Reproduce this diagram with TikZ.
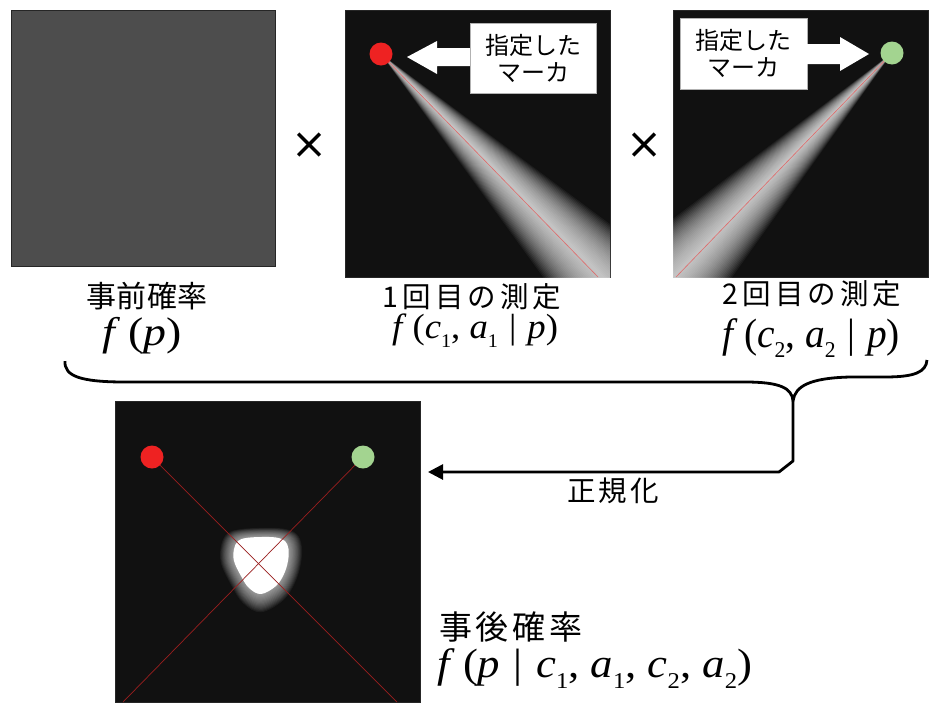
\documentclass[tikz,border=0pt]{standalone}
\usepackage{fontspec}
\newfontfamily\jp{Noto Sans CJK JP}
\newfontfamily\symf{DejaVu Sans}
\newfontfamily\tms{Liberation Serif}
\usetikzlibrary{arrows.meta}
\definecolor{priorc}{HTML}{4D4D4D}
\definecolor{panelbg}{HTML}{111111}
\definecolor{mred}{HTML}{EE2222}
\definecolor{mgreen}{HTML}{A3D490}
\definecolor{lray}{HTML}{E06A6A}
\definecolor{dray}{HTML}{9A1E1E}
\newcommand\jpf[2]{\jp\fontsize{#1}{#1}\selectfont\addfontfeatures{LetterSpace=#2}}
\newcommand\mf[1]{\tms\fontsize{#1}{#1}\selectfont}
\newcommand\vi[1]{\textit{#1}}
\newcommand\sbs[1]{\raisebox{-0.26em}{\scalebox{0.55}{#1}}}
\newcommand\gbar{\hspace{0.3em}|\hspace{0.3em}}
\newcommand\fw[2]{\resizebox{#1pt}{\height}{#2}}
\begin{document}
\begin{tikzpicture}[x=1pt,y=-1pt,
  panel/.style={draw=black!85, line width=0.5pt, inner sep=0pt, outer sep=0pt, anchor=north west},
  marker/.style={circle, inner sep=0pt, minimum size=23pt},
  lbl/.style={inner sep=0pt, align=center, text=black},
  tagbox/.style={fill=white, draw=black!30, line width=0.4pt, inner sep=0pt, align=center,
    font=\jp\fontsize{24}{27}\selectfont},
  heavy/.style={line width=2.8pt, line join=round}]
\useasboundingbox (0,0) rectangle (929,702);
\fill[white] (0,0) rectangle (929,702);

% panels
\node[panel, fill=priorc, minimum width=264pt, minimum height=256pt] (prior) at (11,10) {};
\node[panel, fill=panelbg, minimum width=265pt, minimum height=267pt] (m1) at (345,10) {};
\node[panel, fill=panelbg, minimum width=255pt, minimum height=267pt] (m2) at (673,10) {};
\node[panel, fill=panelbg, minimum width=305pt, minimum height=301pt] (post) at (115,401) {};

% beam 1
\coordinate (a1) at (381,54);
\coordinate (e1) at (598,277);
\begin{scope}
  \clip (m1.north west) rectangle (m1.south east);
  \foreach \h in {0.3,0.6,...,9.0}{
    \fill[white, fill opacity=0.05] (a1) -- +(45.3-\h:430) -- +(45.3+\h:430) -- cycle;
  }
  \draw[lray, line width=0.6pt] (a1) -- (e1);
\end{scope}
% beam 2
\coordinate (a2) at (892,53);
\coordinate (e2) at (676,277);
\begin{scope}
  \clip (m2.north west) rectangle (m2.south east);
  \foreach \h in {0.3,0.6,...,9.0}{
    \fill[white, fill opacity=0.05] (a2) -- +(134.2-\h:430) -- +(134.2+\h:430) -- cycle;
  }
  \draw[lray, line width=0.6pt] (a2) -- (e2);
\end{scope}

\node[marker, fill=mred] (r1) at (a1) {};
\node[marker, fill=mgreen] (g2) at (a2) {};

% tag boxes and block arrows
\node[tagbox, minimum width=126pt, minimum height=70pt] (b1) at (533,58) {指定した\\マーカ};
\fill[white] (407,57) -- (437,41) -- (437,48) -- (b1.west |- 0,48) -- (b1.west |- 0,66) -- (437,66) -- (437,74) -- cycle;
\node[tagbox, minimum width=127pt, minimum height=71pt] (b2) at (743.5,53.5) {指定した\\マーカ};
\fill[white] (b2.east |- 0,44) -- (840,44) -- (840,37) -- (869,54) -- (840,71) -- (840,64) -- (b2.east |- 0,64) -- cycle;

% multiplication signs
\node[lbl, font=\symf\fontsize{43}{43}\selectfont] (x1) at (310,146) {×};
\node[lbl, font=\symf\fontsize{43}{43}\selectfont] (x2) at (645,146) {×};

% labels
\node[lbl, font=\jpf{30}{2}] (t0) at (147,296) {事前確率};
\node[lbl, font=\mf{40}] (f0) at (142.5,336) {\fw{79}{\vi{f}\,(\vi{p})}};
\node[lbl, font=\jpf{28.5}{14}] (t1) at (472,297) {1回目の測定};
\node[lbl, font=\mf{35}] (f1) at (475,331) {\fw{166}{\vi{f}\,(\vi{c}\sbs{1}, \vi{a}\sbs{1}\gbar\vi{p})}};
\node[lbl, font=\jpf{28.5}{14}] (t2) at (812,294) {2回目の測定};
\node[lbl, font=\mf{41}] (f2) at (811,338) {\fw{178}{\vi{f}\,(\vi{c}\sbs{2}, \vi{a}\sbs{2}\gbar\vi{p})}};

% brace
\coordinate (bt) at (793,401);
\draw[heavy] (65,361) .. controls (64,376) and (80,382) .. (125,382) -- (745,382)
  .. controls (780,382) and (792,388) .. (bt)
  .. controls (795,386) and (810,378) .. (850,377) -- (885,377)
  .. controls (915,377) and (926,372) .. (927,360);

% normalisation connector
\coordinate (ah) at (428,472);
\draw[heavy, -{Triangle[length=15pt,width=15pt]}] (bt) -- (793,461) -- (779,472) -- (ah);
\node[lbl, font=\jpf{28.5}{10}] (norm) at (613,491) {正規化};

% posterior panel
\coordinate (pr) at (152,457);
\coordinate (pg) at (363,457);
\begin{scope}
  \clip (post.north west) rectangle (post.south east);
  \foreach \k in {1,...,16}{
    \begin{scope}[shift={(261,{566+0.3*\k})}, scale={1+0.03*\k}]
      \fill[white, opacity=0.05] plot[smooth cycle, tension=0.6] coordinates {(-15,-28) (0,-29) (15,-28.5) (24,-25) (27.5,-17) (27,-5) (23,8) (15,20) (0,28) (-12,22) (-20,10) (-27,-5) (-27,-17) (-23,-25)};
    \end{scope}
  }
  \begin{scope}[shift={(261,566)}]
    \fill[white] plot[smooth cycle, tension=0.6] coordinates {(-15,-28) (0,-29) (15,-28.5) (24,-25) (27.5,-17) (27,-5) (23,8) (15,20) (0,28) (-12,22) (-20,10) (-27,-5) (-27,-17) (-23,-25)};
  \end{scope}
  \draw[dray, line width=0.7pt] (pr) -- (397,702);
  \draw[dray, line width=0.7pt] (pg) -- (123,702);
\end{scope}
\node[marker, fill=mred] (pr1) at (pr) {};
\node[marker, fill=mgreen] (pg1) at (pg) {};

\node[lbl, font=\jpf{33}{12}] (t3) at (511,627) {事後確率};
\node[lbl, font=\mf{41}] (f3) at (595,668.5) {\fw{314}{\vi{f}\,(\vi{p}\gbar\vi{c}\sbs{1}, \vi{a}\sbs{1}, \vi{c}\sbs{2}, \vi{a}\sbs{2})}};
\end{tikzpicture}
\end{document}
